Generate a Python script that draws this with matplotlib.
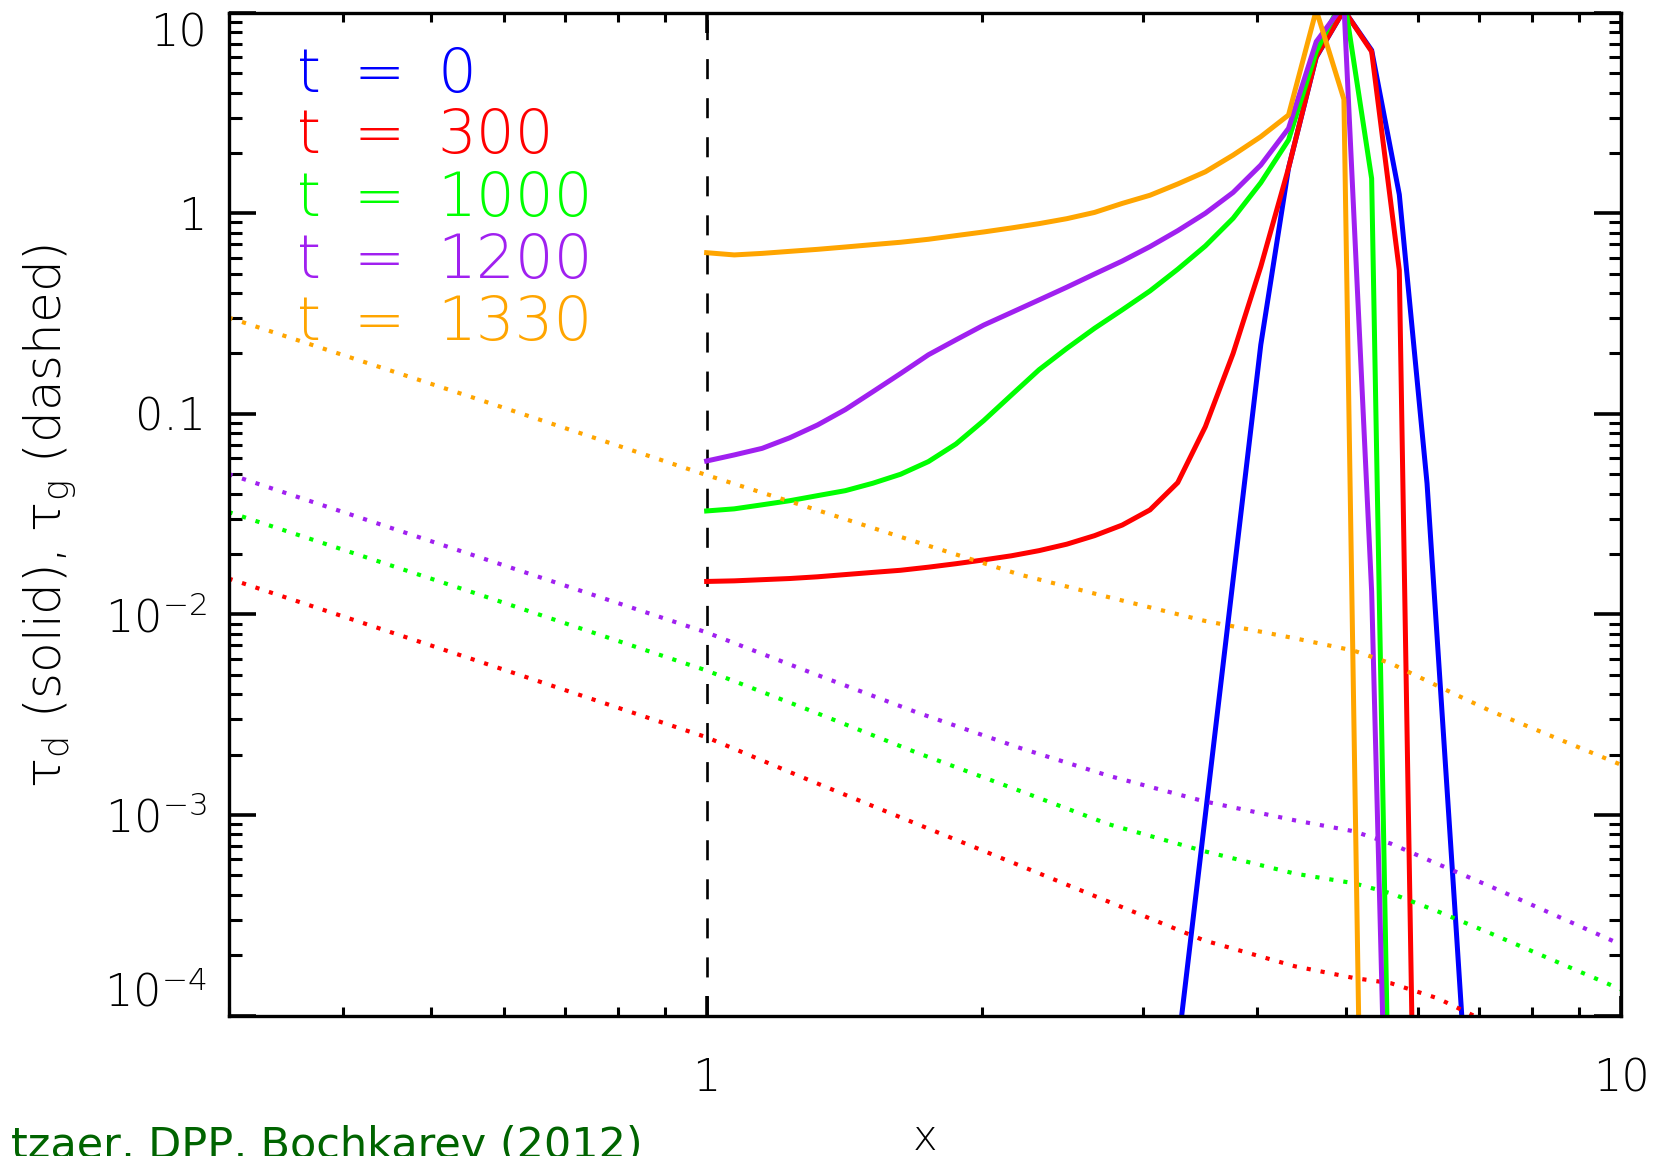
import numpy as np
import matplotlib
matplotlib.use('Agg')
import matplotlib.pyplot as plt
from matplotlib.ticker import FixedLocator, LogLocator, NullFormatter

plt.rcParams['font.family'] = ['DejaVu Sans']
plt.rcParams['font.weight'] = 'ultralight'
plt.rcParams['mathtext.fontset'] = 'custom'
plt.rcParams['mathtext.rm'] = 'DejaVu Sans:ultralight'
plt.rcParams['mathtext.it'] = 'DejaVu Sans:italic'

# radial grid of the dust model (log-spaced, 33 points per decade)
x_grid = [1.000, 1.072, 1.150, 1.233, 1.322, 1.418, 1.520, 1.630, 1.748, 1.874,
          2.009, 2.154, 2.310, 2.477, 2.656, 2.848, 3.054, 3.275, 3.511, 3.765,
          4.037, 4.329, 4.642, 4.977, 5.337, 5.722, 6.136, 6.579, 7.055]

# dust optical depth (solid), each list starts at x_grid[start]
tau_d_t0 = [6.8e-5, 1.0e-3, 0.0149, 0.221, 1.68, 6.0, 10.3, 6.5, 1.24, 0.045,
            3.5e-4, 2.5e-6]
tau_d_t300 = [0.0146, 0.0147, 0.0149, 0.0151, 0.0154, 0.0158, 0.0162, 0.0166,
              0.0172, 0.0179, 0.0187, 0.0196, 0.0208, 0.0224, 0.0247, 0.0279,
              0.0332, 0.0454, 0.0863, 0.200, 0.542, 1.68, 6.04, 10.3, 6.4,
              0.52, 3e-9]
tau_d_t1000 = [0.0328, 0.0336, 0.0352, 0.0369, 0.0391, 0.0414, 0.0451, 0.0500,
               0.0578, 0.0708, 0.0925, 0.124, 0.166, 0.212, 0.267, 0.330,
               0.410, 0.526, 0.687, 0.944, 1.42, 2.32, 6.4, 12.0, 1.49, 4e-8]
tau_d_t1200 = [0.0582, 0.0624, 0.0673, 0.0760, 0.0880, 0.105, 0.129, 0.159,
               0.197, 0.234, 0.277, 0.320, 0.370, 0.428, 0.498, 0.578, 0.682,
               0.819, 1.00, 1.27, 1.74, 2.65, 7.17, 11.0, 0.013, 6e-8]
tau_d_t1330 = [0.636, 0.620, 0.631, 0.646, 0.661, 0.679, 0.698, 0.717, 0.742,
               0.774, 0.807, 0.845, 0.888, 0.940, 1.01, 1.12, 1.23, 1.40, 1.61,
               1.95, 2.41, 3.09, 10.3, 3.70, 9e-9]
start_idx = [17, 0, 0, 0, 0]

# gas optical depth (dotted)
x_gas = [0.3, 0.56, 1.0, 1.3, 1.7, 2.2, 2.75, 3.5, 4.4, 5.1, 5.6, 6.3, 7.2, 10.0]
tau_g_t300 = [0.0151, 0.00589, 0.00244, 0.00148, 9.0e-4, 5.6e-4, 3.7e-4,
              2.37e-4, 1.76e-4, 1.54e-4, 1.45e-4, 1.22e-4, 9.1e-5, 4.5e-5]
tau_g_t1000 = [0.0324, 0.0127, 0.00525, 0.00331, 0.00204, 0.00132, 9.0e-4,
               6.6e-4, 5.1e-4, 4.57e-4, 4.07e-4, 3.31e-4, 2.57e-4, 1.35e-4]
tau_g_t1200 = [0.0501, 0.0195, 0.00813, 0.00513, 0.00324, 0.00216, 0.00157,
               0.00117, 9.4e-4, 8.3e-4, 7.2e-4, 5.7e-4, 4.4e-4, 2.26e-4]
tau_g_t1330 = [0.302, 0.119, 0.0495, 0.0339, 0.0229, 0.0158, 0.0122, 0.0093,
               0.0076, 0.0066, 0.0057, 0.0044, 0.0033, 0.00178]

times = ['0', '300', '1000', '1200', '1330']
colors = ['#0000ff', '#ff0000', '#00ff00', '#a020f0', '#ffa500']
tau_d = [tau_d_t0, tau_d_t300, tau_d_t1000, tau_d_t1200, tau_d_t1330]
tau_g = [None, tau_g_t300, tau_g_t1000, tau_g_t1200, tau_g_t1330]

y_ticks = [1e-4, 1e-3, 1e-2, 0.1, 1, 10]
y_ticklabels = [r'$10^{-4}$', r'$10^{-3}$', r'$10^{-2}$', '0.1', '1', '10']
x_ticks = [1, 10]
x_ticklabels = ['1', '10']

fig = plt.figure(figsize=(16.67, 11.56), dpi=100)
ax = fig.add_axes([0.1371, 0.1215, 0.8353, 0.8675])

ax.axvline(1.0, color='k', lw=1.9, dashes=(7.6, 7.2))

for i in range(len(times)):
    s = start_idx[i]
    xs = x_grid[s:s + len(tau_d[i])]
    ax.plot(xs, tau_d[i], color=colors[i], lw=3.6, solid_joinstyle='miter')
    if tau_g[i] is not None:
        ax.plot(x_gas, tau_g[i], color=colors[i], lw=3.0,
                linestyle=(0, (1, 2.4)), dash_capstyle='butt')

ax.set_xscale('log')
ax.set_yscale('log')
ax.set_xlim(0.3, 10)
ax.set_ylim(1e-4, 10)

ax.xaxis.set_major_locator(FixedLocator(x_ticks))
ax.set_xticklabels(x_ticklabels)
ax.xaxis.set_minor_locator(LogLocator(base=10, subs=np.arange(2, 10), numticks=50))
ax.xaxis.set_minor_formatter(NullFormatter())
ax.yaxis.set_major_locator(FixedLocator(y_ticks))
ax.set_yticklabels(y_ticklabels)
ax.yaxis.set_minor_locator(LogLocator(base=10, subs=np.arange(2, 10), numticks=50))
ax.yaxis.set_minor_formatter(NullFormatter())

ax.tick_params(axis='x', which='major', direction='in', length=14.4, width=2.6,
               top=True, pad=30, labelsize=32)
ax.tick_params(axis='x', which='minor', direction='in', length=6.7, width=2.2, top=True)
ax.tick_params(axis='y', which='major', direction='in', length=19.4, width=2.6,
               right=True, pad=16, labelsize=32)
ax.tick_params(axis='y', which='minor', direction='in', length=9, width=2.2, right=True)
for sp in ax.spines.values():
    sp.set_linewidth(2.4)

yt = ax.yaxis.get_major_ticks()
yt[0].label1.set_va('bottom')
yt[-1].label1.set_va('top')

# legend written as coloured text
base_y = [0.9212, 0.8598, 0.7973, 0.7351, 0.6737]
for i in range(len(times)):
    ax.text(0.0491, base_y[i], 't', color=colors[i], fontsize=44,
            transform=ax.transAxes, va='baseline')
    ax.text(0.0900, base_y[i], '=', color=colors[i], fontsize=44,
            transform=ax.transAxes, va='baseline')
    ax.text(0.1500, base_y[i], times[i], color=colors[i], fontsize=44,
            transform=ax.transAxes, va='baseline')

fig.text(50 / 1667, 1 - 516 / 1156, 'τ$_{\\rm d}$ (solid), τ$_{\\rm g}$ (dashed)',
         rotation=90, ha='center', va='center', fontsize=36)
fig.text(925 / 1667, 1 - 1150 / 1156, 'x', ha='center', va='baseline', fontsize=30)
fig.text(643 / 1667, -0.002, 'tzaer, DPP, Bochkarev (2012)', color='#006400',
         ha='right', va='baseline', fontsize=31, weight='normal')

fig.savefig('out.png', dpi=100)
